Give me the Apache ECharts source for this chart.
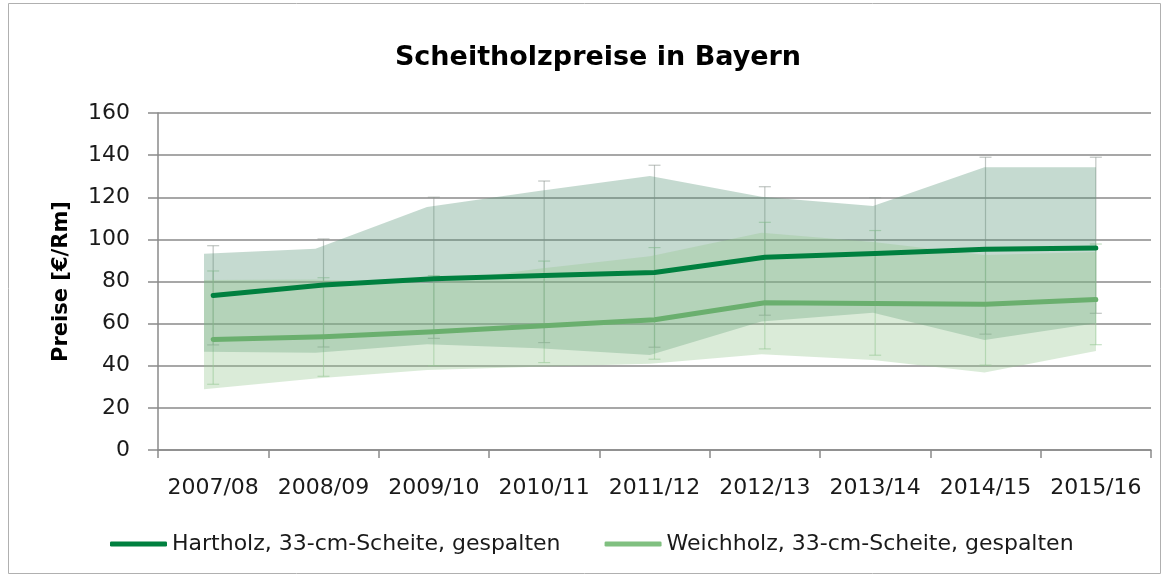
<!DOCTYPE html>
<html>
<head>
<meta charset="utf-8">
<script src="https://cdn.jsdelivr.net/npm/echarts@6/dist/echarts.min.js"></script>
<style>
html,body{margin:0;padding:0;background:#fff;}
#chart{width:1168px;height:577px;}
</style>
</head>
<body>
<div id="chart"></div>
<script>
// ---- data ----
const categories = ['2007/08','2008/09','2009/10','2010/11','2011/12','2012/13','2013/14','2014/15','2015/16'];
const hartMean  = [73.3, 78.3, 81.3, 82.9, 84.3, 91.5, 93.3, 95.3, 95.9];
const weichMean = [52.5, 53.8, 56.2, 59.0, 61.8, 69.9, 69.6, 69.2, 71.4];
// shaded ranges
const hartLow   = [46.7, 46.2, 50.2, 48.3, 45.1, 61.0, 65.2, 52.2, 60.2];
const hartHigh  = [93.2, 95.6, 115.4, 123.0, 130.1, 120.2, 115.8, 134.2, 134.2];
const weichLow  = [28.8, 34.0, 38.0, 39.5, 41.0, 45.5, 42.7, 36.8, 47.0];
const weichHigh = [80.7, 81.0, 79.0, 86.0, 92.0, 103.2, 98.8, 92.6, 94.0];
// error bars
const hartErrLow   = [49.9, 48.9, 53.0, 51.0, 48.8, 64.0, 70.0, 55.0, 64.9];
const hartErrHigh  = [97.0, 100.2, 120.0, 127.7, 135.2, 125.0, 119.8, 139.0, 139.0];
const weichErrLow  = [31.2, 35.0, 40.0, 41.5, 43.1, 48.0, 45.0, 40.3, 50.0];
const weichErrHigh = [85.0, 81.8, 82.8, 89.7, 96.1, 108.1, 104.2, 95.0, 97.8];
const yTicks = {min: 0, max: 160, interval: 20};

const FONT = 'DejaVu Sans';
const hartName = 'Hartholz, 33-cm-Scheite, gespalten';
const weichName = 'Weichholz, 33-cm-Scheite, gespalten';

function diff(hi, lo){ return hi.map((v,i)=> +(v - lo[i]).toFixed(2)); }

function errRenderer(color){
  return function(params, api){
    const lo = api.coord([api.value(0), api.value(1)]);
    const hi = api.coord([api.value(0), api.value(2)]);
    const w = 6;
    const st = {stroke: color, lineWidth: 1.2};
    return {type:'group', children:[
      {type:'line', shape:{x1:lo[0], y1:lo[1], x2:hi[0], y2:hi[1]}, style: st},
      {type:'line', shape:{x1:lo[0]-w, y1:lo[1], x2:lo[0]+w, y2:lo[1]}, style: st},
      {type:'line', shape:{x1:hi[0]-w, y1:hi[1], x2:hi[0]+w, y2:hi[1]}, style: st}
    ]};
  };
}

const chart = echarts.init(document.getElementById('chart'), null, {renderer:'canvas'});
const gridLineColor = '#8a8a8a';

const option = {
  animation: false,
  backgroundColor: '#ffffff',
  title: {
    text: 'Scheitholzpreise in Bayern',
    left: 593, top: 39, textAlign: 'center',
    textStyle: {fontFamily: FONT, fontWeight: 'bold', fontSize: 27, color: '#000'}
  },
  graphic: [{
    type: 'rect', silent: true, z: -1,
    shape: {x: 8.5, y: 3.5, width: 1152, height: 570},
    style: {fill: 'none', stroke: '#b0b0b0', lineWidth: 1}
  }],
  legend: {
    left: 105, top: 528,
    icon: 'roundRect', itemWidth: 57, itemHeight: 5, itemGap: 44,
    textStyle: {fontFamily: FONT, fontSize: 22, color: '#1a1a1a'},
    data: [
      {name: hartName, itemStyle: {color: '#00803f'}},
      {name: weichName, itemStyle: {color: '#80c080'}}
    ]
  },
  grid: [
    {left: 158, right: 17, top: 113, bottom: 127, containLabel: false},
    {left: 204, right: 72, top: 113, bottom: 127, containLabel: false}
  ],
  xAxis: [
    {
      type: 'category', gridIndex: 0, data: categories, boundaryGap: true,
      axisLine: {lineStyle: {color: gridLineColor, width: 1.5}},
      axisTick: {show: true, length: 8, lineStyle: {color: gridLineColor, width: 1.5}},
      axisLabel: {fontFamily: FONT, fontSize: 22, color: '#1a1a1a', margin: 27, interval: 0},
      splitLine: {show: false}
    },
    {
      type: 'category', gridIndex: 1, data: categories, boundaryGap: false,
      show: false
    }
  ],
  yAxis: [
    {
      type: 'value', gridIndex: 0, min: yTicks.min, max: yTicks.max, interval: yTicks.interval,
      name: 'Preise [€/Rm]', nameLocation: 'middle', nameGap: 86, nameRotate: 90,
      nameTextStyle: {fontFamily: FONT, fontWeight: 'bold', fontSize: 21, color: '#000'},
      axisLine: {show: true, lineStyle: {color: gridLineColor, width: 1.5}},
      axisTick: {show: true, length: 10, lineStyle: {color: gridLineColor, width: 1.5}},
      axisLabel: {fontFamily: FONT, fontSize: 22, color: '#1a1a1a', margin: 28},
      splitLine: {show: true, lineStyle: {color: gridLineColor, width: 1.5}}
    },
    {
      type: 'value', gridIndex: 1, min: yTicks.min, max: yTicks.max, interval: yTicks.interval,
      show: false, splitLine: {show: false}
    }
  ],
  series: [
    // Hartholz range
    {name: 'hBase', type: 'line', xAxisIndex: 1, yAxisIndex: 1, stack: 'h', data: hartLow,
     showSymbol: false, symbol: 'none', lineStyle: {width: 0, opacity: 0}, silent: true},
    {name: 'hBand', type: 'line', xAxisIndex: 1, yAxisIndex: 1, stack: 'h', data: diff(hartHigh, hartLow),
     showSymbol: false, symbol: 'none', lineStyle: {width: 0, opacity: 0}, silent: true,
     areaStyle: {color: 'rgba(89,149,121,0.35)', opacity: 1}},
    // Hartholz mean line
    {name: hartName, type: 'line', xAxisIndex: 0, yAxisIndex: 0, data: hartMean,
     showSymbol: false, symbol: 'none', color: '#00803f',
     lineStyle: {width: 5, color: '#00803f', cap: 'round', join: 'round'}},
    // Weichholz range
    {name: 'wBase', type: 'line', xAxisIndex: 1, yAxisIndex: 1, stack: 'w', data: weichLow,
     showSymbol: false, symbol: 'none', lineStyle: {width: 0, opacity: 0}, silent: true},
    {name: 'wBand', type: 'line', xAxisIndex: 1, yAxisIndex: 1, stack: 'w', data: diff(weichHigh, weichLow),
     showSymbol: false, symbol: 'none', lineStyle: {width: 0, opacity: 0}, silent: true,
     areaStyle: {color: 'rgba(149,198,144,0.35)', opacity: 1}},
    // error bars
    {name: 'hErr', type: 'custom', xAxisIndex: 0, yAxisIndex: 0,
     renderItem: errRenderer('rgba(140,150,143,0.55)'),
     data: categories.map((c,i)=>[i, hartErrLow[i], hartErrHigh[i]]), silent: true},
    {name: 'wErr', type: 'custom', xAxisIndex: 0, yAxisIndex: 0,
     renderItem: errRenderer('rgba(150,200,150,0.55)'),
     data: categories.map((c,i)=>[i, weichErrLow[i], weichErrHigh[i]]), silent: true},
    // Weichholz mean line
    {name: weichName, type: 'line', xAxisIndex: 0, yAxisIndex: 0, data: weichMean,
     showSymbol: false, symbol: 'none', color: '#6aaf6e',
     lineStyle: {width: 5, color: '#6aaf6e', cap: 'round', join: 'round'}}
  ]
};
chart.setOption(option);
</script>
</body>
</html>
